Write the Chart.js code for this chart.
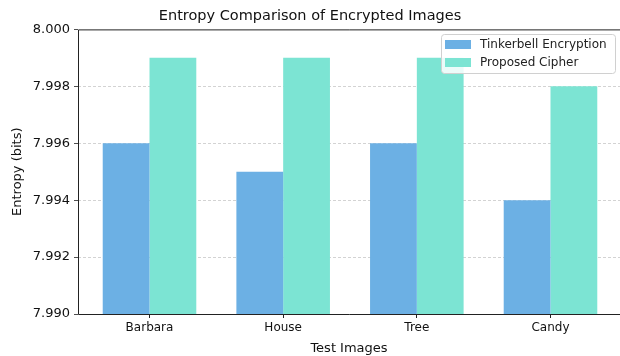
<!DOCTYPE html>
<html><head><meta charset="utf-8">
<script src="https://cdn.jsdelivr.net/npm/chart.js@4"></script>
<style>html,body{margin:0;padding:0;background:#fff}#wrap{width:620px;height:356px}</style>
</head><body><div id="wrap"><canvas id="c" width="620" height="356"></canvas></div>
<script>
const categories = ["Barbara", "House", "Tree", "Candy"];
const tinkerbell = [7.996, 7.995, 7.996, 7.994];
const proposed = [7.999, 7.999, 7.999, 7.998];
const seriesNames = ["Tinkerbell Encryption", "Proposed Cipher"];
const yTicks = [7.990, 7.992, 7.994, 7.996, 7.998, 8.000];

const FONT = "'DejaVu Sans', sans-serif";
const colors = ["rgba(108,176,228,1)", "rgba(124,228,211,1)"];

const framePlugin = {
  id: 'frame',
  afterDraw(chart) {
    const {ctx, chartArea: a} = chart;
    ctx.save();
    ctx.strokeStyle = '#222'; ctx.lineWidth = 1;
    ctx.beginPath();
    ctx.moveTo(a.right, a.top + 0.5); ctx.lineTo(Math.round(a.left) + 0.5, a.top + 0.5);
    ctx.lineTo(Math.round(a.left) + 0.5, Math.round(a.bottom) + 0.5); ctx.lineTo(a.right, Math.round(a.bottom) + 0.5);
    ctx.stroke();
    // legend
    const x0 = 441, y0 = 34, w = 174, h = 39;
    ctx.fillStyle = 'rgba(255,255,255,0.85)';
    ctx.strokeStyle = '#d0d0d0';
    ctx.beginPath();
    if (ctx.roundRect) ctx.roundRect(x0 + 0.5, y0 + 0.5, w, h, 3); else ctx.rect(x0 + 0.5, y0 + 0.5, w, h);
    ctx.fill(); ctx.stroke();
    ctx.font = "12px " + FONT;
    ctx.textBaseline = 'middle';
    chart.data.datasets.forEach((ds, i) => {
      const yy = y0 + 10 + i * 18;
      ctx.fillStyle = ds.backgroundColor;
      ctx.fillRect(x0 + 4, yy - 4, 26, 9);
      ctx.fillStyle = '#222';
      ctx.fillText(ds.label, x0 + 39, yy + 1);
    });
    ctx.restore();
  }
};

new Chart(document.getElementById('c'), {
  type: 'bar',
  data: {
    datasets: [
      { label: seriesNames[0], data: categories.map((c, i) => ({x: i, y: tinkerbell[i]})), backgroundColor: colors[0] },
      { label: seriesNames[1], data: categories.map((c, i) => ({x: i, y: proposed[i]})), backgroundColor: colors[1] }
    ]
  },
  options: {
    responsive: false, animation: false,
    layout: { padding: { left: 0, right: 0, top: 0, bottom: 0 } },
    datasets: { bar: { categoryPercentage: 0.7, barPercentage: 1.0, grouped: true } },
    plugins: {
      legend: { display: false },
      tooltip: { enabled: false },
      title: { display: true, text: 'Entropy Comparison of Encrypted Images', color: '#111',
        font: { family: FONT, size: 14.5, weight: 'normal' }, padding: { top: 8, bottom: 4 } }
    },
    scales: {
      x: {
        type: 'linear', min: -0.535, max: 3.52, offset: false,
        afterBuildTicks(s) { s.ticks = categories.map((c, i) => ({ value: i })); },
        afterFit(s) { s.height = 42; },
        ticks: { autoSkip: false, maxRotation: 0, color: '#111', font: { family: FONT, size: 12 }, padding: 3,
          callback: (v) => categories[v] },
        grid: { offset: false, drawOnChartArea: false, drawTicks: true, tickLength: 4, tickColor: '#222', tickWidth: 1 },
        border: { display: false },
        title: { display: true, text: 'Test Images', color: '#111', font: { family: FONT, size: 13 }, padding: { top: 0, bottom: 0 } }
      },
      y: {
        min: 7.990, max: 8.000,
        afterBuildTicks(s) { s.ticks = yTicks.map(v => ({ value: v })); },
        afterFit(s) { s.width = 78; },
        ticks: { color: '#111', font: { family: FONT, size: 13 }, padding: 4,
          callback: (v) => Number(v).toFixed(3) },
        grid: { color: (c) => (c.tick && (Math.abs(c.tick.value - 7.990) < 1e-9 || Math.abs(c.tick.value - 8.0) < 1e-9)) ? 'rgba(0,0,0,0)' : '#c8c8c8',
          lineWidth: 0.8, tickBorderDash: [], tickColor: '#222', tickLength: 4, drawTicks: true },
        border: { display: false, dash: [3, 2] },
        title: { display: true, text: 'Entropy (bits)', color: '#111', font: { family: FONT, size: 13 }, padding: { top: 10, bottom: 0 } }
      }
    }
  },
  plugins: [framePlugin]
});
</script></body></html>
